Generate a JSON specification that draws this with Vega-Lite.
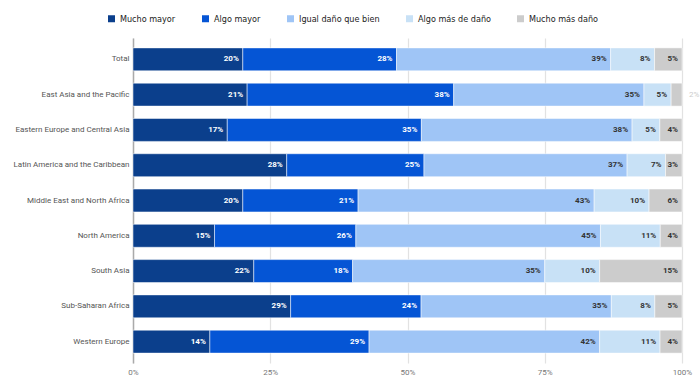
{
  "$schema": "https://vega.github.io/schema/vega-lite/v6.json",
  "autosize": {"type": "none"},
  "padding": {"left": 133, "top": 38, "right": 18, "bottom": 28},
  "width": 549,
  "height": 325,
  "background": "white",
  "config": {
    "view": {"stroke": null},
    "font": "Roboto"
  },
  "data": {
    "values": [
      {"r": "Total", "c": "Mucho mayor", "v": 20},
      {"r": "Total", "c": "Algo mayor", "v": 28},
      {"r": "Total", "c": "Igual daño que bien", "v": 39},
      {"r": "Total", "c": "Algo más de daño", "v": 8},
      {"r": "Total", "c": "Mucho más daño", "v": 5},
      {"r": "East Asia and the Pacific", "c": "Mucho mayor", "v": 21},
      {"r": "East Asia and the Pacific", "c": "Algo mayor", "v": 38},
      {"r": "East Asia and the Pacific", "c": "Igual daño que bien", "v": 35},
      {"r": "East Asia and the Pacific", "c": "Algo más de daño", "v": 5},
      {"r": "East Asia and the Pacific", "c": "Mucho más daño", "v": 2},
      {"r": "Eastern Europe and Central Asia", "c": "Mucho mayor", "v": 17},
      {"r": "Eastern Europe and Central Asia", "c": "Algo mayor", "v": 35},
      {"r": "Eastern Europe and Central Asia", "c": "Igual daño que bien", "v": 38},
      {"r": "Eastern Europe and Central Asia", "c": "Algo más de daño", "v": 5},
      {"r": "Eastern Europe and Central Asia", "c": "Mucho más daño", "v": 4},
      {"r": "Latin America and the Caribbean", "c": "Mucho mayor", "v": 28},
      {"r": "Latin America and the Caribbean", "c": "Algo mayor", "v": 25},
      {"r": "Latin America and the Caribbean", "c": "Igual daño que bien", "v": 37},
      {"r": "Latin America and the Caribbean", "c": "Algo más de daño", "v": 7},
      {"r": "Latin America and the Caribbean", "c": "Mucho más daño", "v": 3},
      {"r": "Middle East and North Africa", "c": "Mucho mayor", "v": 20},
      {"r": "Middle East and North Africa", "c": "Algo mayor", "v": 21},
      {"r": "Middle East and North Africa", "c": "Igual daño que bien", "v": 43},
      {"r": "Middle East and North Africa", "c": "Algo más de daño", "v": 10},
      {"r": "Middle East and North Africa", "c": "Mucho más daño", "v": 6},
      {"r": "North America", "c": "Mucho mayor", "v": 15},
      {"r": "North America", "c": "Algo mayor", "v": 26},
      {"r": "North America", "c": "Igual daño que bien", "v": 45},
      {"r": "North America", "c": "Algo más de daño", "v": 11},
      {"r": "North America", "c": "Mucho más daño", "v": 4},
      {"r": "South Asia", "c": "Mucho mayor", "v": 22},
      {"r": "South Asia", "c": "Algo mayor", "v": 18},
      {"r": "South Asia", "c": "Igual daño que bien", "v": 35},
      {"r": "South Asia", "c": "Algo más de daño", "v": 10},
      {"r": "South Asia", "c": "Mucho más daño", "v": 15},
      {"r": "Sub-Saharan Africa", "c": "Mucho mayor", "v": 29},
      {"r": "Sub-Saharan Africa", "c": "Algo mayor", "v": 24},
      {"r": "Sub-Saharan Africa", "c": "Igual daño que bien", "v": 35},
      {"r": "Sub-Saharan Africa", "c": "Algo más de daño", "v": 8},
      {"r": "Sub-Saharan Africa", "c": "Mucho más daño", "v": 5},
      {"r": "Western Europe", "c": "Mucho mayor", "v": 14},
      {"r": "Western Europe", "c": "Algo mayor", "v": 29},
      {"r": "Western Europe", "c": "Igual daño que bien", "v": 42},
      {"r": "Western Europe", "c": "Algo más de daño", "v": 11},
      {"r": "Western Europe", "c": "Mucho más daño", "v": 4}
    ]
  },
  "transform": [
    {"calculate": "indexof(['Mucho mayor','Algo mayor','Igual daño que bien','Algo más de daño','Mucho más daño'], datum.c)", "as": "o"},
    {"calculate": "datum.v + '%'", "as": "lab"},
    {"stack": "v", "groupby": ["r"], "sort": [{"field": "o", "order": "ascending"}], "offset": "normalize", "as": ["x0", "x1"]}
  ],
  "encoding": {
    "y": {
      "field": "r",
      "type": "nominal",
      "sort": null,
      "title": null,
      "scale": {"paddingInner": 0.35, "paddingOuter": 0.28},
      "axis": {
        "domain": true,
        "domainColor": "#aaaaaa",
        "domainWidth": 1.5,
        "ticks": false,
        "labelPadding": 4,
        "labelFontSize": 8,
        "labelColor": "#555555",
        "labelFont": "Roboto"
      }
    }
  },
  "layer": [
    {
      "mark": {"type": "bar", "stroke": "white", "strokeWidth": 0.5},
      "encoding": {
        "x": {
          "field": "x0",
          "type": "quantitative",
          "title": null,
          "scale": {"domain": [0, 1], "nice": false, "zero": false},
          "axis": {
            "values": [0, 0.25, 0.5, 0.75, 1],
            "format": ".0%",
            "domain": false,
            "ticks": false,
            "grid": true,
            "gridColor": "#e2e2e2",
            "gridWidth": 1.2,
            "labelPadding": 5,
            "labelFlush": false,
            "labelFontSize": 8,
            "labelColor": "#777777",
            "labelFont": "Roboto"
          }
        },
        "x2": {"field": "x1"},
        "color": {
          "field": "c",
          "type": "nominal",
          "title": null,
          "scale": {
            "domain": ["Mucho mayor", "Algo mayor", "Igual daño que bien", "Algo más de daño", "Mucho más daño"],
            "range": ["#0b3f8c", "#0555d5", "#9fc5f6", "#c8e1f6", "#cccccc"]
          },
          "legend": {
            "orient": "none",
            "legendX": -26,
            "legendY": -24,
            "direction": "horizontal",
            "symbolType": "square",
            "symbolSize": 49,
            "symbolStrokeWidth": 0,
            "labelFont": "DejaVu Sans Condensed",
            "labelFontSize": 9,
            "labelColor": "#222222",
            "labelOffset": 4,
            "columnPadding": 25
          }
        }
      }
    },
    {
      "transform": [{"filter": "datum.v >= 3"}],
      "mark": {"type": "text", "align": "right", "baseline": "middle", "dx": -4, "fontSize": 8, "fontWeight": "bold", "font": "Roboto"},
      "encoding": {
        "x": {"field": "x1", "type": "quantitative"},
        "text": {"field": "lab"},
        "color": {"condition": {"test": "datum.o < 2", "value": "white"}, "value": "#333333"}
      }
    },
    {
      "transform": [{"filter": "datum.v < 3"}],
      "mark": {"type": "text", "align": "left", "baseline": "middle", "dx": 7, "fontSize": 8, "font": "Roboto", "color": "#cccccc"},
      "encoding": {
        "x": {"field": "x1", "type": "quantitative"},
        "text": {"field": "lab"}
      }
    }
  ]
}
